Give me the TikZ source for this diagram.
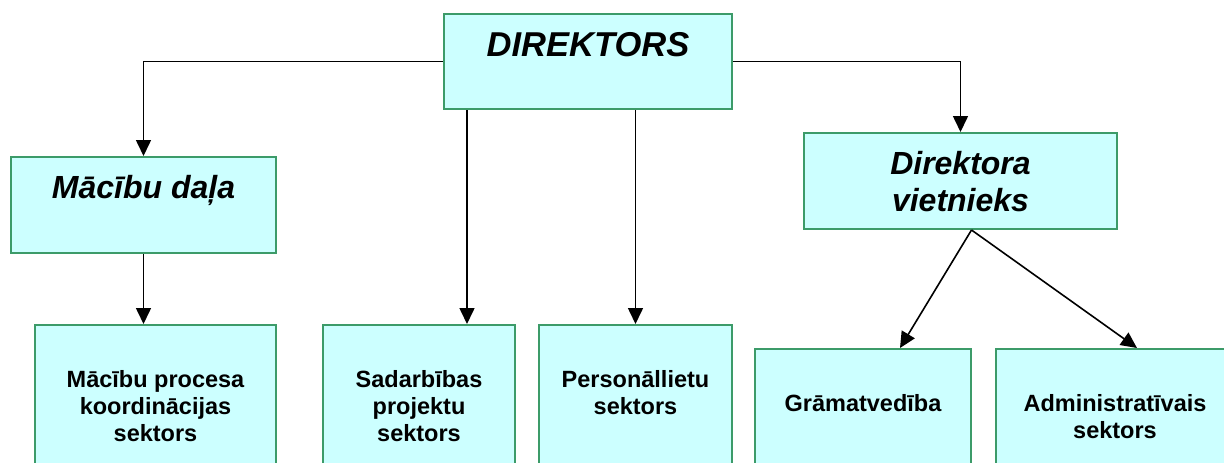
\documentclass[tikz,border=0pt]{standalone}
\usepackage{fontspec}
\setmainfont{Liberation Sans}
\usetikzlibrary{arrows.meta}

\definecolor{kaste}{RGB}{204,255,255}
\definecolor{mala}{RGB}{60,155,105}

\begin{document}
\begin{tikzpicture}[x=1pt,y=-1pt,
    boks/.style={draw=mala, fill=kaste, line width=2pt, inner sep=0pt,
      anchor=north west, align=center},
    vadiba/.style={boks, font=\fontsize{32}{37}\selectfont\bfseries\itshape,
      text height=41pt, text depth=55pt},
    sektors/.style={boks, font=\fontsize{23.5}{27}\selectfont\bfseries,
      text height=62pt, text depth=160pt},
    rindas2/.style={text height=89pt},
    rindas3/.style={text height=116pt},
    bulta/.style={line width=1.6pt, -{Triangle[length=16pt,width=15pt]}}]
  \useasboundingbox (0,0) rectangle (1224,463);
  \clip (0,0) rectangle (1224,463);

  % vadiba
  \node[vadiba, minimum width=288pt, text height=42pt, text depth=53pt,
    font=\fontsize{34.5}{38}\selectfont\bfseries\itshape] (dir) at (443,13) {DIREKTORS};
  \node[vadiba, minimum width=265pt] (mdala) at (10,156) {Mācību daļa};
  \node[vadiba, minimum width=313pt, text height=78pt, text depth=18pt] (vietn) at (803,132) {Direktora\\vietnieks};

  % sektori
  \node[sektors, rindas3, minimum width=241pt] (mproc) at (34,324) {Mācību procesa\\koordinācijas\\sektors};
  \node[sektors, rindas3, minimum width=192pt] (sadarb) at (322,324) {Sadarbības\\projektu\\sektors};
  \node[sektors, rindas2, minimum width=193pt] (pers) at (538,324) {Personāllietu\\sektors};
  \node[sektors, minimum width=216pt] (gram) at (754,348) {Grāmatvedība};
  \node[sektors, rindas2, minimum width=238pt] (admin) at (995,348) {Administratīvais\\sektors};

  % bultas
  \coordinate (s1) at ([xshift=24pt]dir.south west);
  \coordinate (v1) at ([xshift=11pt]vietn.south);
  \draw[bulta] (dir.west) -| (mdala.north);
  \draw[bulta] (dir.east) -| (vietn.north);
  \draw[bulta] (s1) -- (s1 |- sadarb.north);
  \draw[bulta] (pers.north |- dir.south) -- (pers.north);
  \draw[bulta] (mdala.south) -- (mdala.south |- mproc.north);
  \draw[bulta] (v1) -- ([xshift=37pt]gram.north);
  \draw[bulta] (v1) -- ([xshift=22pt]admin.north);
\end{tikzpicture}
\end{document}
